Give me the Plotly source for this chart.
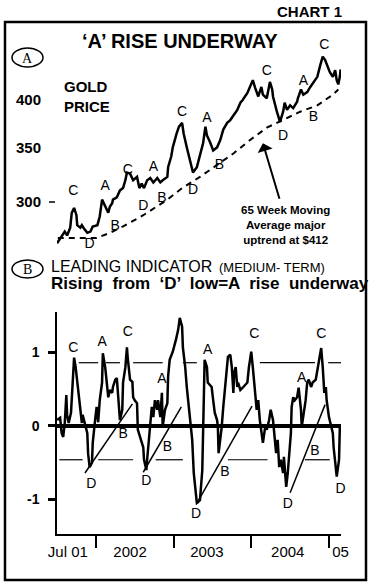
import math
import plotly.graph_objects as go

W, H = 375, 586

# ---------------- data ----------------
# Gold price (US$/oz), time in decimal years
gold_t = [2001.50, 2001.56, 2001.60, 2001.63, 2001.67, 2001.69, 2001.72, 2001.75, 2001.76, 2001.80,
          2001.82, 2001.84, 2001.89, 2001.93, 2001.96, 2002.02, 2002.05, 2002.08, 2002.12, 2002.14,
          2002.16, 2002.18, 2002.21, 2002.22, 2002.27, 2002.31, 2002.35, 2002.38, 2002.40, 2002.44,
          2002.48, 2002.53, 2002.56, 2002.59, 2002.62, 2002.66, 2002.70, 2002.74, 2002.79, 2002.83,
          2002.86, 2002.92, 2002.93, 2002.97, 2002.99, 2003.04, 2003.07, 2003.11, 2003.13, 2003.17,
          2003.21, 2003.25, 2003.30, 2003.34, 2003.38, 2003.41, 2003.43, 2003.47, 2003.51, 2003.56,
          2003.60, 2003.64, 2003.69, 2003.73, 2003.77, 2003.82, 2003.86, 2003.89, 2003.95, 2003.98,
          2004.02, 2004.05, 2004.09, 2004.13, 2004.15, 2004.20, 2004.24, 2004.27, 2004.28, 2004.33,
          2004.37, 2004.41, 2004.43, 2004.46, 2004.50, 2004.54, 2004.59, 2004.60, 2004.64, 2004.67,
          2004.72, 2004.76, 2004.80, 2004.85, 2004.89, 2004.92, 2004.95, 2004.98, 2005.01, 2005.05,
          2005.08, 2005.10, 2005.12, 2005.14, 2005.15]
gold_p = [267, 272, 276, 273, 279, 291, 295, 289, 281, 279,
          281, 279, 275, 276, 280, 281, 288, 302, 296, 293,
          291, 296, 299, 302, 304, 310, 312, 319, 326, 325,
          319, 322, 312, 316, 312, 319, 321, 317, 321, 317,
          319, 322, 331, 341, 350, 364, 371, 375, 364, 350,
          338, 326, 331, 343, 354, 371, 362, 355, 347, 350,
          357, 368, 375, 378, 383, 389, 397, 400, 408, 414,
          423, 414, 404, 415, 406, 402, 421, 412, 404, 387,
          376, 387, 397, 389, 394, 391, 398, 402, 412, 406,
          409, 415, 421, 427, 442, 452, 448, 439, 433, 427,
          435, 423, 418, 427, 436]

# 65 week moving average
ma_t = [2001.51, 2002.01, 2002.18, 2002.35, 2002.61, 2002.92, 2003.11, 2003.34,
        2003.77, 2003.98, 2004.20, 2004.40, 2004.63, 2004.85, 2005.05, 2005.12]
ma_p = [271, 271, 275, 280, 289, 302, 312, 322,
        344, 357, 370, 378, 387, 394, 406, 412]

# Leading indicator (medium-term)
ind_t = [2001.50, 2001.54, 2001.56, 2001.58, 2001.60, 2001.62, 2001.63, 2001.65, 2001.68, 2001.71,
         2001.72, 2001.74, 2001.77, 2001.80, 2001.82, 2001.83, 2001.86, 2001.89, 2001.90, 2001.92,
         2001.95, 2001.96, 2001.99, 2002.01, 2002.03, 2002.05, 2002.08, 2002.09, 2002.12, 2002.14,
         2002.16, 2002.18, 2002.21, 2002.22, 2002.25, 2002.27, 2002.29, 2002.31, 2002.34, 2002.35,
         2002.38, 2002.40, 2002.41, 2002.44, 2002.47, 2002.48, 2002.50, 2002.53, 2002.54, 2002.57,
         2002.61, 2002.62, 2002.65, 2002.66, 2002.68, 2002.70, 2002.72, 2002.74, 2002.76, 2002.79,
         2002.80, 2002.83, 2002.85, 2002.86, 2002.89, 2002.92, 2002.93, 2002.95, 2002.99, 2003.03,
         2003.06, 2003.08, 2003.11, 2003.12, 2003.15, 2003.17, 2003.20, 2003.24, 2003.26, 2003.29,
         2003.30, 2003.34, 2003.37, 2003.40, 2003.43, 2003.44, 2003.49, 2003.51, 2003.53, 2003.56,
         2003.57, 2003.58, 2003.61, 2003.62, 2003.64, 2003.66, 2003.69, 2003.70, 2003.73, 2003.75,
         2003.77, 2003.78, 2003.80, 2003.82, 2003.83, 2003.86, 2003.89, 2003.95, 2003.97, 2004.00,
         2004.02, 2004.05, 2004.07, 2004.09, 2004.11, 2004.14, 2004.15, 2004.18, 2004.20, 2004.23,
         2004.25, 2004.28, 2004.29, 2004.32, 2004.34, 2004.36, 2004.38, 2004.41, 2004.42, 2004.45,
         2004.47, 2004.49, 2004.51, 2004.52, 2004.54, 2004.56, 2004.59, 2004.61, 2004.64, 2004.65,
         2004.68, 2004.70, 2004.72, 2004.74, 2004.77, 2004.79, 2004.83, 2004.86, 2004.90, 2004.92,
         2004.94, 2004.96, 2004.97, 2005.00, 2005.03, 2005.05, 2005.06, 2005.09, 2005.10, 2005.13,
         2005.14]
ind_v = [0.08, 0.11, -0.10, -0.15, 0.04, 0.42, 0.15, 0.04, 0.18, 0.72,
         0.93, 0.80, 0.53, 0.22, 0.04, 0.15, 0.04, -0.10, -0.37, -0.56,
         -0.50, -0.23, 0.08, 0.26, 0.05, 0.35, 0.59, 0.99, 0.80, 0.63,
         0.39, 0.49, 0.45, 0.53, 0.63, 0.65, 0.35, 0.08, 0.22, 0.59,
         0.80, 1.07, 0.93, 0.63, 0.60, 0.39, 0.35, 0.31, -0.05, -0.15,
         -0.29, -0.46, -0.60, -0.46, -0.19, -0.01, 0.26, 0.12, 0.35, 0.22,
         0.35, 0.12, 0.45, -0.01, 0.22, 0.31, 0.67, 0.90, 1.01, 1.17,
         1.31, 1.47, 1.35, 1.07, 0.80, 0.53, 0.22, -0.19, -0.64, -0.97,
         -1.05, -1.01, -0.60, 0.90, 0.80, 0.59, 0.53, 0.35, 0.18, 0.08,
         -0.01, -0.37, -0.10, -0.01, 0.26, 0.49, 0.80, 0.94, 0.97, 0.80,
         0.45, 0.72, 0.80, 0.53, 0.59, 0.49, 0.52, 0.59, 0.80, 1.01,
         0.80, 0.49, 0.22, 0.35, 0.08, -0.15, -0.23, -0.01, -0.05, 0.08,
         0.22, 0.08, -0.05, -0.37, -0.19, -0.56, -0.46, -0.64, -0.42, -0.83,
         -0.64, -0.42, -0.10, 0.26, 0.39, 0.35, 0.39, 0.52, 0.22, -0.01,
         0.18, 0.35, 0.59, 0.63, 0.53, 0.59, 0.63, 0.80, 1.06, 0.80,
         0.45, 0.53, 0.35, 0.12, -0.01, -0.10, -0.29, -0.60, -0.69, -0.46,
         -0.01]

# reference bands of the indicator
upper_level = 0.86
upper_segs = [(2001.78, 2002.03), (2002.13, 2002.31), (2002.48, 2002.86), (2003.12, 2003.30),
              (2004.11, 2004.82), (2004.99, 2005.25)]
lower_level = -0.46
lower_segs = [(2001.53, 2001.83), (2002.03, 2002.48), (2002.77, 2003.12), (2003.70, 2004.21),
              (2004.69, 2005.01)]
# rising trend lines from 'D' lows
trend_t = [(2001.86, 2002.47), (2002.61, 2003.10), (2003.29, 2004.01), (2004.50, 2004.95)]
trend_v = [(-0.64, 0.30), (-0.63, 0.26), (-1.07, 0.27), (-0.91, 0.29)]

# cycle labels
gold_lbl = ["C", "D", "A", "B", "C", "D", "A", "B", "C", "D", "A", "B", "C", "D", "A", "B", "C", "D", "A"]
gold_lbl_t = [2001.71, 2001.92, 2002.12, 2002.25, 2002.41, 2002.61, 2002.74, 2002.85, 2003.11, 2003.25,
              2003.43, 2003.59, 2004.20, 2004.41, 2004.67, 2004.80, 2004.94, 2005.17, 2005.23]
gold_lbl_p = [309, 266, 313, 280, 328, 296, 331, 303, 386, 310,
              380, 333, 433, 361, 421, 381, 467, 400, 457]

ind_lbl = ["C", "A", "C", "D", "B", "A", "B", "D", "C", "D", "A", "B", "C", "D", "A", "B", "C", "D", "A"]
ind_lbl_t = [2001.71, 2002.08, 2002.41, 2001.94, 2002.35, 2002.85, 2002.92, 2002.65, 2003.12, 2003.29,
             2003.44, 2003.66, 2004.04, 2004.47, 2004.65, 2004.82, 2004.90, 2005.15, 2005.23]
ind_lbl_v = [1.06, 1.13, 1.27, -0.80, -0.12, 0.63, -0.29, -0.76, 1.64, -1.21,
             1.03, -0.64, 1.25, -1.07, 0.64, -0.35, 1.25, -0.87, 0.68]

x_tick_pos = [2001.64, 2002.44, 2003.43, 2004.47, 2005.15]
x_tick_txt = ["Jul 01", "2002", "2003", "2004", "05"]
year_bounds = [2002, 2003, 2004, 2005]
gold_ticks = [300, 350, 400]
ind_ticks = [-1, 0, 1]
ma_note_t, ma_note_p = 2004.15, 354

# ---------------- helpers (layout only) ----------------
def px(x):
    return x / W

def py(y):
    return 1 - y / H

FONT = "Liberation Sans, Arial, sans-serif"
SERIF = "Liberation Serif, Times New Roman, serif"

def seg_xy(segs, level):
    xs, ys = [], []
    for a, b in segs:
        xs += [a, b, None]
        ys += [level, level, None]
    return xs, ys

fig = go.Figure()

# gold panel
fig.add_trace(go.Scatter(x=ma_t, y=ma_p, mode="lines", xaxis="x2", yaxis="y2",
                         line=dict(color="black", width=2, dash="6px,5px")))
fig.add_trace(go.Scatter(x=gold_t, y=gold_p, mode="lines", xaxis="x2", yaxis="y2",
                         line=dict(color="black", width=2.5)))
fig.add_trace(go.Scatter(x=gold_lbl_t, y=gold_lbl_p, mode="text", text=gold_lbl, xaxis="x2", yaxis="y2",
                         textfont=dict(family=FONT, size=14, color="black"), cliponaxis=False))
fig.add_trace(go.Scatter(x=[2005.16], y=[414], mode="markers", xaxis="x2", yaxis="y2", cliponaxis=False,
                         marker=dict(symbol="line-ew", size=7, line=dict(color="black", width=3))))

# indicator panel
ux, uy = seg_xy(upper_segs, upper_level)
lx, ly = seg_xy(lower_segs, lower_level)
fig.add_trace(go.Scatter(x=ux + lx, y=uy + ly, mode="lines", line=dict(color="black", width=1.2)))
tx, tv = [], []
for (a, b), (va, vb) in zip(trend_t, trend_v):
    tx += [a, b, None]
    tv += [va, vb, None]
fig.add_trace(go.Scatter(x=tx, y=tv, mode="lines", line=dict(color="black", width=1.5)))
fig.add_trace(go.Scatter(x=ind_t, y=ind_v, mode="lines", line=dict(color="black", width=2.5)))
fig.add_trace(go.Scatter(x=ind_lbl_t, y=ind_lbl_v, mode="text", text=ind_lbl,
                         textfont=dict(family=FONT, size=14, color="black"), cliponaxis=False))

xr = [2001.5, 2005.155]
fig.update_layout(
    width=W, height=H, margin=dict(l=0, r=0, t=0, b=0, autoexpand=False),
    paper_bgcolor="white", plot_bgcolor="white", showlegend=False,
    font=dict(family=FONT, color="black"),
    xaxis=dict(domain=[px(57), px(341)], range=xr, anchor="y", showline=True, linewidth=2,
               linecolor="black", showgrid=False, zeroline=False, automargin=False,
               tickmode="array", tickvals=x_tick_pos, ticktext=x_tick_txt,
               ticks="outside", ticklen=3, tickcolor="rgba(0,0,0,0)",
               tickfont=dict(family=FONT, size=15, color="black"),
               minor=dict(tickmode="array", tickvals=year_bounds, ticks="outside", ticklen=12,
                          tickwidth=2, tickcolor="black", showgrid=False)),
    yaxis=dict(domain=[py(534), py(312)], range=[-1.47, 1.55], anchor="x", showline=True,
               linewidth=1.5, linecolor="black", showgrid=False, zeroline=True, automargin=False,
               zerolinewidth=3.5, zerolinecolor="black", tickmode="array", tickvals=ind_ticks,
               ticktext=["-1", "0", "1"], ticks="outside", ticklen=7, tickwidth=3, tickcolor="black",
               ticklabelstandoff=6, tickfont=dict(family=FONT, size=14, color="black", weight="bold")),
    xaxis2=dict(domain=[px(57), px(341)], range=xr, anchor="y2", matches="x", visible=False,
                automargin=False),
    yaxis2=dict(domain=[py(250), py(40)], type="log", range=[2.41832, 2.67556], anchor="x2",
                showline=False, showgrid=False, zeroline=False, tickmode="array", tickvals=gold_ticks,
                ticks="", ticklabelstandoff=15, automargin=False,
                tickfont=dict(family=FONT, size=15, color="black", weight="bold")),
)

shapes = [
    dict(type="rect", xref="paper", yref="paper", x0=px(5), x1=px(366), y0=py(580), y1=py(22),
         line=dict(color="black", width=2.5)),
    dict(type="circle", xref="paper", yref="paper", x0=px(12), x1=px(43), y0=py(67), y1=py(48),
         line=dict(color="black", width=1.5)),
    dict(type="circle", xref="paper", yref="paper", x0=px(12), x1=px(43), y0=py(278), y1=py(260),
         line=dict(color="black", width=1.5)),
    dict(type="line", xref="paper", yref="y2", x0=px(49), x1=px(55), y0=gold_ticks[0], y1=gold_ticks[0],
         line=dict(color="black", width=1.5)),
]
fig.update_layout(shapes=shapes)

def txt(x, y, s, size, bold=False, anchor="center", family=FONT):
    return dict(x=px(x), y=py(y), xref="paper", yref="paper", text=s, showarrow=False,
                xanchor=anchor, yanchor="middle", align="left" if anchor == "left" else "center",
                font=dict(family=family, size=size, color="black", weight="bold" if bold else "normal"))

ann = [
    txt(309, 12, "CHART 1", 15, True),
    txt(180, 41, "‘A’ RISE UNDERWAY", 20, True),
    txt(27.5, 58, "A", 14, False, family=SERIF),
    txt(27.5, 269, "B", 14, False, family=SERIF),
    txt(62, 96, "GOLD<br>PRICE", 15, True, "left"),
    txt(285, 224.5, "65 Week Moving<br>Average major<br>uptrend at $412", 11.5, True),
    txt(49, 266, "LEADING INDICATOR", 16, False, "left"),
    txt(217, 268, "(MEDIUM- TERM)", 13, False, "left"),
    txt(49, 283, "Rising \u00a0from \u00a0‘D’ \u00a0low=A \u00a0rise \u00a0underway", 17, True, "left"),
    dict(x=ma_note_t, y=math.log10(ma_note_p), xref="x2", yref="y2", text="", showarrow=True,
         ax=17, ay=57, axref="pixel", ayref="pixel", arrowhead=1, arrowsize=1.3, arrowwidth=2,
         arrowcolor="black"),
]
fig.update_layout(annotations=ann)

fig.write_html("out.html", config={"displayModeBar": False},
               post_script="document.body.style.margin='0';document.body.style.overflow='hidden';")
